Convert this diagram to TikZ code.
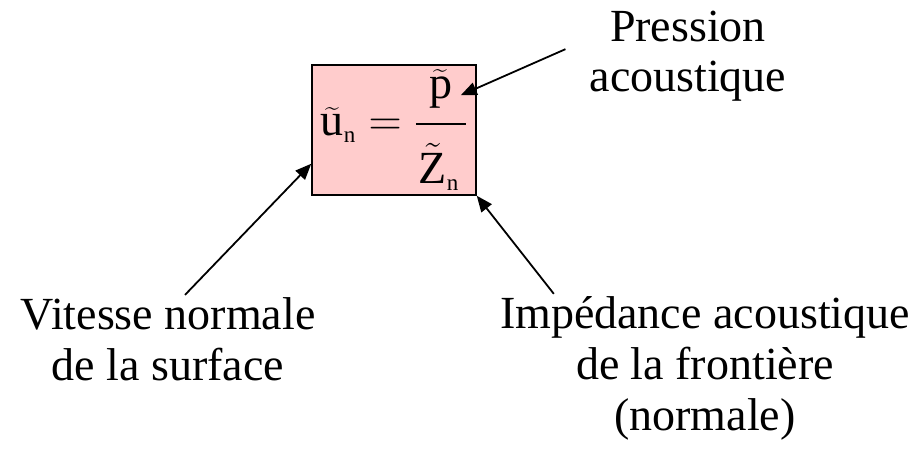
\documentclass[tikz,border=0pt]{standalone}
\usepackage{fix-cm}
\usepackage{amsmath}
\usepackage{fontspec}
\setmainfont{Liberation Serif}
\usetikzlibrary{arrows.meta,positioning}
\definecolor{boxpink}{RGB}{255,204,204}

\begin{document}
\begin{tikzpicture}[x=1pt, y=-1pt,
  lbl/.style={align=center, inner sep=2pt, font=\fontsize{46}{51}\selectfont},
  eqbox/.style={draw, line width=1.5pt, fill=boxpink, minimum width=164pt,
    minimum height=130pt, inner sep=0pt, font=\fontsize{46}{51}\selectfont},
  arr/.style={-{Triangle[length=16pt,width=13pt]}, line width=1.8pt}
]
\useasboundingbox (0,0) rectangle (923,452);
\node[eqbox] (eq) at (394,130)
  {$\widetilde{\mathrm{u}}_{\scriptscriptstyle\mathrm{n}} = \genfrac{}{}{1.8pt}{0}{\widetilde{\mathrm{p}}\rule[-0.42em]{0pt}{0.42em}}{\kern3pt\tilde{\mathrm{Z}}_{\scriptscriptstyle\mathrm{n}}\kern7pt\rule{0pt}{1.15em}}$};
\node[lbl, anchor=base] (vit) at (168,380) {Vitesse normale\\de la surface};
\node[lbl, anchor=base] (imp) at (705,430) {Impédance acoustique\\de la frontière\\(normale)};
\node[lbl, anchor=base] (pres) at (688,92) {Pression\\acoustique};

\draw[arr] ([xshift=17pt]vit.north) -- ([yshift=32pt]eq.south west);
\draw[arr] ([xshift=56pt]imp.north west) -- (eq.south east);
\draw[arr] ([xshift=-22pt,yshift=7pt]pres.west) -- ([xshift=-16pt,yshift=-31pt]eq.north east);
\end{tikzpicture}
\end{document}
